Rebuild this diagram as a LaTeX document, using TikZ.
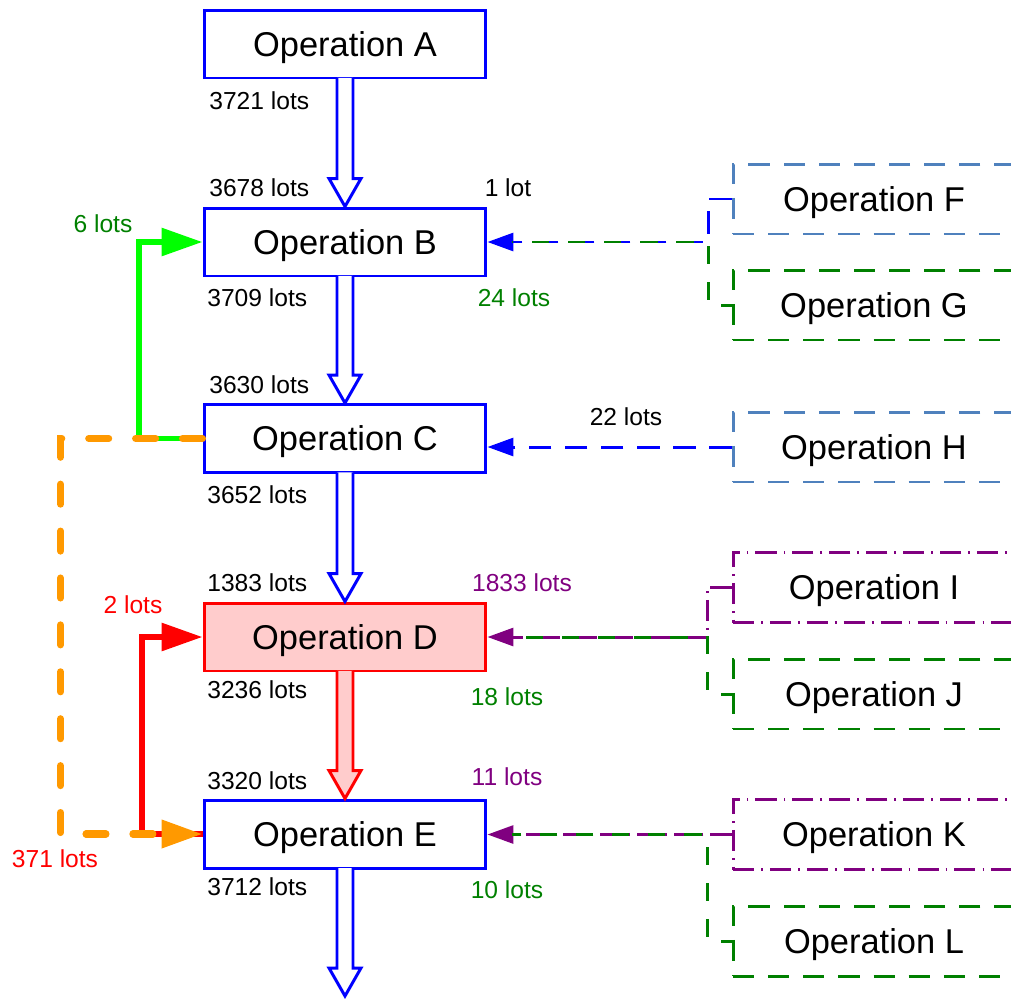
\documentclass[tikz,border=0pt]{standalone}
\usepackage{fontspec}
\setmainfont{Liberation Sans}
\usetikzlibrary{arrows.meta}
\usetikzlibrary{calc}
\usetikzlibrary{positioning}

\definecolor{opblue}{RGB}{0,0,255}
\definecolor{sideblue}{RGB}{79,129,189}
\definecolor{lotgreen}{RGB}{0,128,0}
\definecolor{lotpurple}{RGB}{128,0,128}
\definecolor{looporange}{RGB}{255,153,0}
\definecolor{loopgreen}{RGB}{0,255,0}
\definecolor{oppink}{RGB}{255,204,204}

% hollow block arrow from one anchor down to another
\newcommand{\blockarrow}[3]{%
  \draw[#1] ($(#2)+(-8,-1.5)$) -- ($(#3)+(-8,-28)$) -- ($(#3)+(-16,-28)$) -- (#3)
    -- ($(#3)+(16,-28)$) -- ($(#3)+(8,-28)$) -- ($(#2)+(8,-1.5)$);}

\begin{document}
\begin{tikzpicture}[x=0.02cm,y=-0.02cm,
  opbox/.style={draw=opblue,line width=1.7pt,minimum width=5.64cm,minimum height=1.36cm,inner sep=0pt,text depth=0pt,font=\fontsize{19.6}{22}\selectfont},
  sidebox/.style={line width=1.7pt,minimum width=5.64cm,minimum height=1.4cm,inner sep=0pt,text depth=0pt,font=\fontsize{19.6}{22}\selectfont},
  dashbox/.style={sidebox,dash pattern=on 12pt off 8pt},
  dotbox/.style={sidebox,draw=lotpurple,dash pattern=on 12pt off 4pt on 1pt off 4pt},
  lot/.style={font=\fontsize{14}{16}\selectfont,inner sep=0pt},
  flow/.style={line width=1.7pt,dash pattern=on 13pt off 7.5pt},
  gflow/.style={line width=1.7pt,lotgreen,dash pattern=on 10pt off 10.5pt,dash phase=4pt,shorten >=0.5cm},
  dflow/.style={line width=1.7pt,dash pattern=on 12pt off 4pt on 1pt off 4pt},
  tip/.style={-{Triangle[length=0.52cm,width=0.36cm]}},
  bigtip/.style={-{Triangle[length=0.82cm,width=0.54cm]}},
  blk/.style={draw=opblue,fill=white,line width=1.7pt,line join=miter},
]
\useasboundingbox (0,0) rectangle (1011,998);
\clip (0,0) rectangle (1011,998);

% main line
\node[opbox] (A) at (345,44) {Operation A};
\node[opbox] (B) at (345,242) {Operation B};
\node[opbox] (C) at (345,438.5) {Operation C};
\node[opbox,draw=red,fill=oppink] (D) at (345,637) {Operation D};
\node[opbox] (E) at (345,834) {Operation E};
\coordinate (sink) at (345,996);

% side operations
\node[dashbox,draw=sideblue] (F) at (874,199) {Operation F};
\node[dashbox,draw=lotgreen] (G) at (874,305) {Operation G};
\node[dashbox,draw=sideblue] (H) at (874,447) {Operation H};
\node[dotbox] (I) at (874,587.5) {Operation I};
\node[dashbox,draw=lotgreen] (J) at (874,694) {Operation J};
\node[dotbox] (K) at (874,834.5) {Operation K};
\node[dashbox,draw=lotgreen] (L) at (874,941) {Operation L};

\coordinate (jB) at (708,242);
\coordinate (jD) at (707,637);
\coordinate (jE) at (707,834);

% block arrows
\blockarrow{blk}{A.south}{B.north}
\blockarrow{blk}{B.south}{C.north}
\blockarrow{blk}{C.south}{D.north}
\blockarrow{blk,draw=red,fill=oppink}{D.south}{E.north}
\blockarrow{blk}{E.south}{sink}

% feeders from the right
\draw[flow,opblue,tip] (F.west) -| (jB) -- (B.east);
\draw[gflow] (G.west) -| (jB) -- (B.east);
\draw[flow,opblue,tip] (H.west) -- (H.west -| C.east);
\draw[dflow,lotpurple,tip] (I.west) -| (jD) -- (D.east);
\draw[gflow] (J.west) -| (jD) -- (D.east);
\draw[dflow,lotpurple,tip] (K.west) -- (K.west -| E.east);
\draw[gflow] (L.west) -| (jE) -- (E.east);

% loops on the left
\draw[loopgreen,line width=3.4pt,bigtip] (C.west) -- ++(-64,0) |- (B.west);
\draw[red,line width=3.4pt,bigtip] (E.west) -- ++(-61,0) |- (D.west);
\draw[looporange,line width=4pt,line cap=round,dash pattern=on 11.4pt off 15.3pt,bigtip] (C.west) -- ++(-142,0) |- (E.west);

% lot counts
\node[lot,anchor=west] at (209,101) {3721 lots};
\node[lot,anchor=west] at (209,188) {3678 lots};
\node[lot] at (508,188) {1 lot};
\node[lot,text=lotgreen] at (103,224) {6 lots};
\node[lot,anchor=west] at (207,298) {3709 lots};
\node[lot,text=lotgreen] at (514,298) {24 lots};
\node[lot,anchor=west] at (209,385) {3630 lots};
\node[lot] at (626,417) {22 lots};
\node[lot,anchor=west] at (207,495) {3652 lots};
\node[lot,anchor=west] at (207,583) {1383 lots};
\node[lot,text=lotpurple] at (522,583) {1833 lots};
\node[lot,text=red] at (133,605) {2 lots};
\node[lot,anchor=west] at (207,690) {3236 lots};
\node[lot,text=lotgreen] at (507,697) {18 lots};
\node[lot,anchor=west] at (207,781) {3320 lots};
\node[lot,text=lotpurple] at (507,777) {11 lots};
\node[lot,text=red] at (55,859) {371 lots};
\node[lot,anchor=west] at (207,887) {3712 lots};
\node[lot,text=lotgreen] at (507,890) {10 lots};

\end{tikzpicture}
\end{document}
